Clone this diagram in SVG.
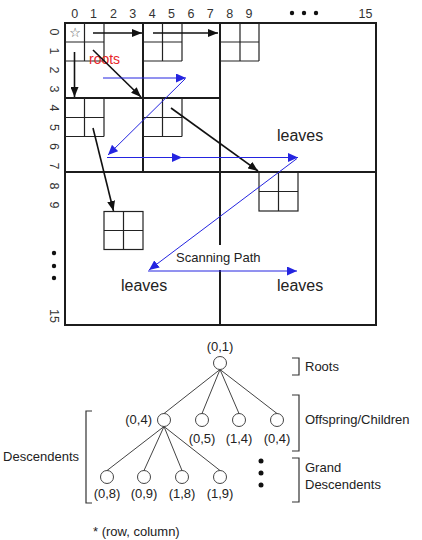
<svg xmlns="http://www.w3.org/2000/svg" width="422" height="540" viewBox="0 0 422 540">
  <defs>
    <marker id="ahBlack" markerUnits="userSpaceOnUse" markerWidth="11" markerHeight="8" refX="10" refY="4" orient="auto">
      <path d="M0,0 L10,4 L0,8 z" fill="#111"/>
    </marker>
    <marker id="ahBlue" markerUnits="userSpaceOnUse" markerWidth="11" markerHeight="9" refX="10" refY="4.5" orient="auto">
      <path d="M0,0 L10,4.5 L0,9 z" fill="#2424e0"/>
    </marker>
    <style>
      .frame { fill: none; stroke: #1c1c1c; stroke-width: 2; }
      .quad { stroke: #1c1c1c; stroke-width: 2; fill: none; }
      .cell { fill: none; stroke: #222; stroke-width: 1.2; }
      .black { stroke: #111; stroke-width: 1.6; fill: none; marker-end: url(#ahBlack); }
      .blue { stroke: #2424e0; stroke-width: 1; fill: none; marker-end: url(#ahBlue); }
      .num { font-family: "Liberation Sans", Arial, sans-serif; font-size: 12.5px; fill: #333; text-anchor: middle; }
      .lbl { font-family: "Liberation Sans", Arial, sans-serif; fill: #222; }
      .red { fill: #e8262a; font-size: 14px; }
      .star { font-family: "DejaVu Sans", sans-serif; font-size: 13px; fill: #555; text-anchor: middle; }
      .big { font-size: 16px; }
      .mid { font-size: 13px; }
      .edge { stroke: #444; stroke-width: 1; fill: none; }
      .node { fill: #fff; stroke: #444; stroke-width: 1; }
      .brk { fill: none; stroke: #333; stroke-width: 1.2; }
      .dot { fill: #111; }
    </style>
  </defs>

  <!-- column indices -->
  <g id="col-index">
    <text class="num" x="74.7" y="18">0</text>
    <text class="num" x="93.5" y="18">1</text>
    <text class="num" x="113.4" y="18">2</text>
    <text class="num" x="132.8" y="18">3</text>
    <text class="num" x="152.2" y="18">4</text>
    <text class="num" x="171.6" y="18">5</text>
    <text class="num" x="191" y="18">6</text>
    <text class="num" x="210.3" y="18">7</text>
    <text class="num" x="229.7" y="18">8</text>
    <text class="num" x="249" y="18">9</text>
    <circle class="dot" cx="292" cy="13" r="2.2"/>
    <circle class="dot" cx="304" cy="13" r="2.2"/>
    <circle class="dot" cx="316" cy="13" r="2.2"/>
    <text class="num" x="365.5" y="18">15</text>
  </g>

  <!-- row indices (rotated) -->
  <g id="row-index">
    <text class="num" transform="translate(50,32) rotate(90)">0</text>
    <text class="num" transform="translate(50,51) rotate(90)">1</text>
    <text class="num" transform="translate(50,70) rotate(90)">2</text>
    <text class="num" transform="translate(50,89) rotate(90)">3</text>
    <text class="num" transform="translate(50,108) rotate(90)">4</text>
    <text class="num" transform="translate(50,127.5) rotate(90)">5</text>
    <text class="num" transform="translate(50,146.5) rotate(90)">6</text>
    <text class="num" transform="translate(50,166) rotate(90)">7</text>
    <text class="num" transform="translate(50,186) rotate(90)">8</text>
    <text class="num" transform="translate(50,205) rotate(90)">9</text>
    <circle class="dot" cx="54" cy="253" r="2.2"/>
    <circle class="dot" cx="54" cy="266" r="2.2"/>
    <circle class="dot" cx="54" cy="278" r="2.2"/>
    <text class="num" transform="translate(50,316) rotate(90)">15</text>
  </g>

  <!-- image frame and quadrant subdivision -->
  <g id="frame">
    <rect class="frame" x="65" y="23" width="311" height="302"/>
    <line class="quad" x1="143" y1="23" x2="143" y2="172"/>
    <line class="quad" x1="65" y1="98" x2="220" y2="98"/>
    <line class="quad" x1="220" y1="23" x2="220" y2="245"/>
    <line class="quad" x1="220" y1="270" x2="220" y2="325"/>
    <line class="quad" x1="65" y1="172" x2="376" y2="172"/>
  </g>

  <!-- 2x2 coefficient blocks -->
  <g id="block-0-0">
    <path class="cell" d="M65,42 H104 M65,61 H104 M84.5,23 V61 M104,23 V61"/>
    <text class="star" x="75" y="37">☆</text>
  </g>
  <g id="block-0-4">
    <path class="cell" d="M143,42 H182 M143,61 H182 M162.5,23 V61 M182,23 V61"/>
  </g>
  <g id="block-0-8">
    <path class="cell" d="M220,42 H259 M220,61 H259 M240,23 V61 M259,23 V61"/>
  </g>
  <g id="block-4-0">
    <path class="cell" d="M65,117.5 H104 M65,136.5 H104 M84.5,98 V136.5 M104,98 V136.5"/>
  </g>
  <g id="block-4-4">
    <path class="cell" d="M143,117.5 H182 M143,136.5 H182 M162.5,98 V136.5 M182,98 V136.5"/>
  </g>
  <g id="block-8-10">
    <rect class="cell" x="259" y="172" width="39" height="39"/>
    <path class="cell" d="M259,191.5 H298 M278.5,172 V211"/>
  </g>
  <g id="block-10-2">
    <rect class="cell" x="104" y="211.5" width="39" height="38"/>
    <path class="cell" d="M104,230.5 H143 M123.5,211.5 V249.5"/>
  </g>

  <!-- quadrant labels -->
  <g id="labels">
    <text class="lbl red" x="89" y="64">roots</text>
    <text class="lbl big" x="277" y="141">leaves</text>
    <text class="lbl big" x="121" y="291">leaves</text>
    <text class="lbl big" x="277" y="291">leaves</text>
    <text class="lbl mid" x="176" y="262">Scanning Path</text>
  </g>

  <!-- parent-to-offspring arrows and scanning path -->
  <g id="connectors">
    <line class="black" x1="93" y1="33" x2="142" y2="33"/>
    <line class="black" x1="153" y1="33" x2="218" y2="33"/>
    <line class="black" x1="74.5" y1="52" x2="74.5" y2="97"/>
    <line class="black" x1="93" y1="50" x2="141" y2="97"/>
    <line class="black" x1="171" y1="108" x2="258" y2="171"/>
    <line class="black" x1="93" y1="128" x2="113.5" y2="211"/>

    <line class="blue" x1="103" y1="78" x2="186" y2="78"/>
    <line class="blue" x1="185" y1="79" x2="108" y2="155"/>
    <line class="blue" x1="107" y1="157.5" x2="182" y2="157.5"/>
    <line class="blue" x1="180" y1="157.5" x2="298" y2="157.5"/>
    <line class="blue" x1="297" y1="158.5" x2="149" y2="270"/>
    <line class="blue" x1="148" y1="271" x2="297" y2="271"/>
  </g>

  <!-- spatial orientation tree -->
  <g id="tree-edges">
    <path class="edge" d="M220,369.5 L164,413.5 M220,369.5 L202,413.5 M220,369.5 L239,413.5 M220,369.5 L277,413.5"/>
    <path class="edge" d="M164,426.5 L107,470.5 M164,426.5 L144,470.5 M164,426.5 L182,470.5 M164,426.5 L220,470.5"/>
  </g>
  <g id="node-0-1">
    <circle class="node" cx="220" cy="363" r="6.5"/>
    <text class="lbl mid" x="220" y="351" text-anchor="middle">(0,1)</text>
  </g>
  <g id="node-0-4">
    <circle class="node" cx="164" cy="420" r="6.5"/>
    <text class="lbl mid" x="152" y="424" text-anchor="end">(0,4)</text>
  </g>
  <g id="node-0-5">
    <circle class="node" cx="202" cy="420" r="6.5"/>
    <text class="lbl mid" x="202" y="443" text-anchor="middle">(0,5)</text>
  </g>
  <g id="node-1-4">
    <circle class="node" cx="239" cy="420" r="6.5"/>
    <text class="lbl mid" x="239" y="443" text-anchor="middle">(1,4)</text>
  </g>
  <g id="node-0-4b">
    <circle class="node" cx="277" cy="420" r="6.5"/>
    <text class="lbl mid" x="277" y="443" text-anchor="middle">(0,4)</text>
  </g>
  <g id="node-0-8">
    <circle class="node" cx="107" cy="477" r="6.5"/>
    <text class="lbl mid" x="107" y="498" text-anchor="middle">(0,8)</text>
  </g>
  <g id="node-0-9">
    <circle class="node" cx="144" cy="477" r="6.5"/>
    <text class="lbl mid" x="144" y="498" text-anchor="middle">(0,9)</text>
  </g>
  <g id="node-1-8">
    <circle class="node" cx="182" cy="477" r="6.5"/>
    <text class="lbl mid" x="182" y="498" text-anchor="middle">(1,8)</text>
  </g>
  <g id="node-1-9">
    <circle class="node" cx="220" cy="477" r="6.5"/>
    <text class="lbl mid" x="220" y="498" text-anchor="middle">(1,9)</text>
  </g>
  <g id="more-levels">
    <circle class="dot" cx="261" cy="461" r="2.5"/>
    <circle class="dot" cx="261" cy="473" r="2.5"/>
    <circle class="dot" cx="261" cy="485" r="2.5"/>
  </g>

  <!-- level brackets -->
  <g id="bracket-roots">
    <path class="brk" d="M292,358 H299 V375 H292"/>
    <text class="lbl mid" x="305" y="371">Roots</text>
  </g>
  <g id="bracket-offspring">
    <path class="brk" d="M292,395 H299 V451 H292"/>
    <text class="lbl mid" x="305" y="424">Offspring/Children</text>
  </g>
  <g id="bracket-grand">
    <path class="brk" d="M292,458 H299 V502 H292"/>
    <text class="lbl mid" x="305" y="472">Grand</text>
    <text class="lbl mid" x="305" y="489">Descendents</text>
  </g>
  <g id="bracket-descendents">
    <path class="brk" d="M92,411 H86 V503 H92"/>
    <text class="lbl mid" x="79" y="461" text-anchor="end">Descendents</text>
  </g>

  <text class="lbl mid" x="93" y="536">* (row, column)</text>
</svg>
